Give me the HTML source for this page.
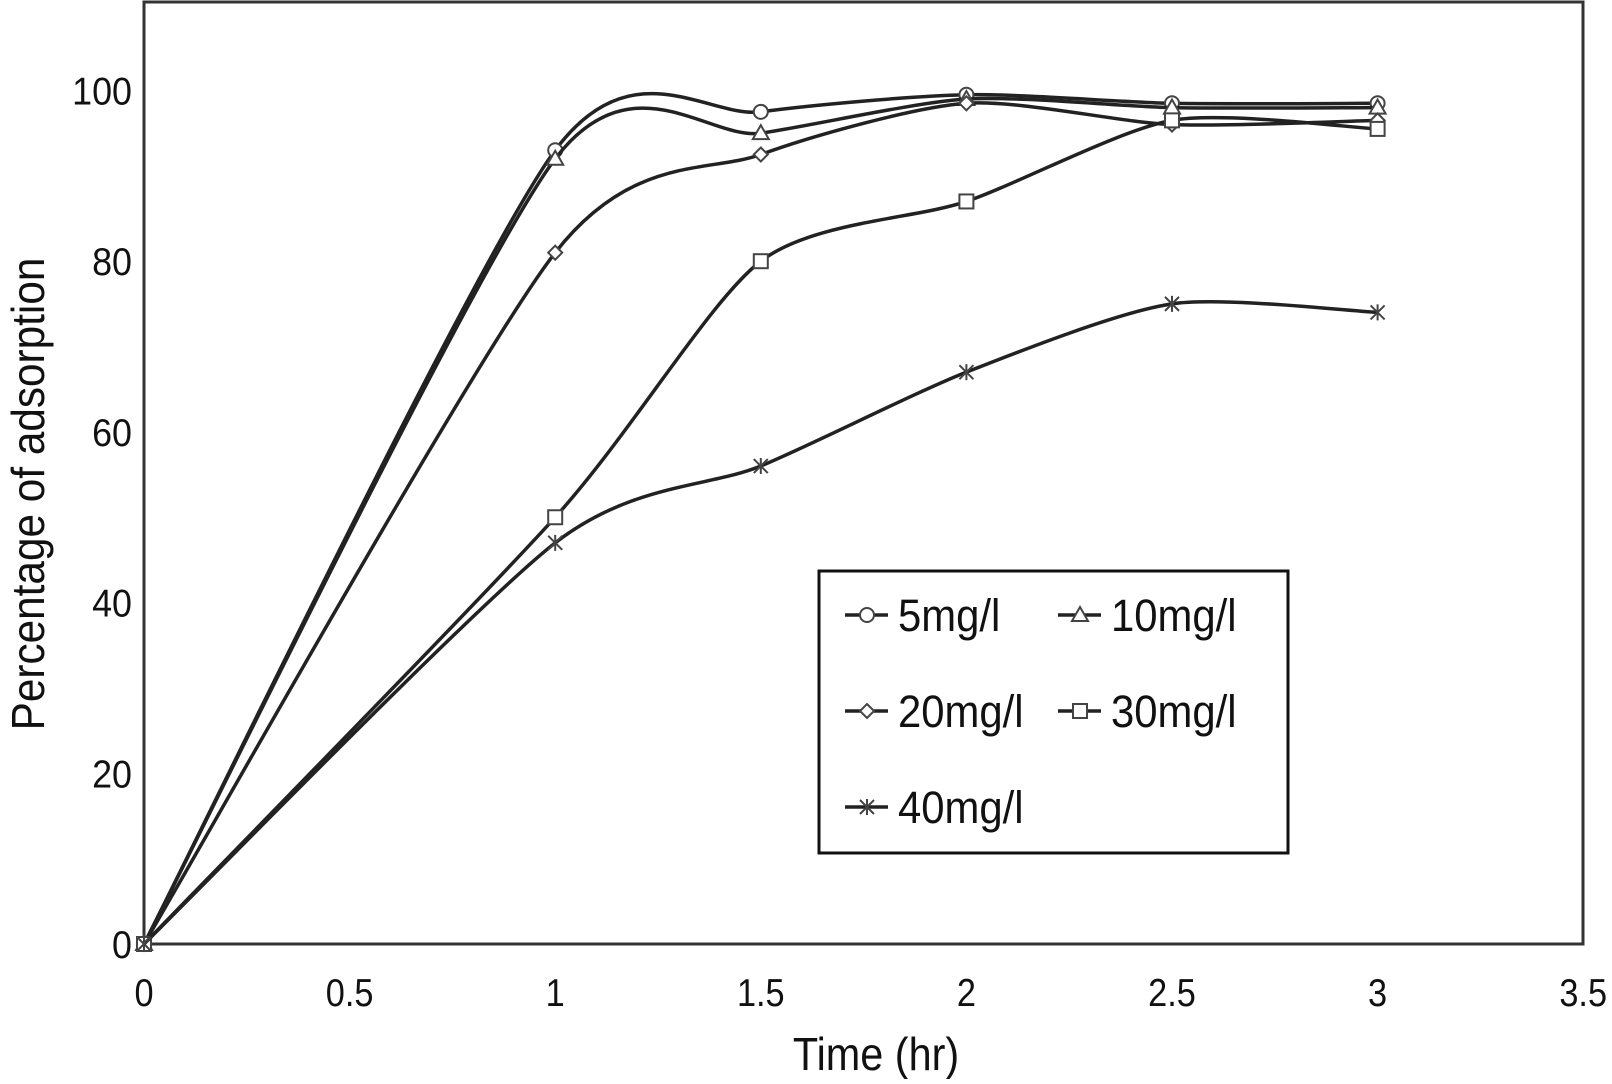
<!DOCTYPE html>
<html><head><meta charset="utf-8"><style>
html,body{margin:0;padding:0;background:#fff;}
svg text{font-family:"Liberation Sans",sans-serif;fill:#111;}
</style></head><body>
<svg id="chart" width="1612" height="1079" viewBox="0 0 1612 1079" xmlns="http://www.w3.org/2000/svg">
<rect x="144" y="2" width="1439" height="942" fill="#fff" stroke="#333" stroke-width="3"/>
<g id="ticks"></g>
<g id="series"></g>
<text x="876" y="1070" font-size="46" text-anchor="middle" transform="translate(876,0) scale(0.9,1) translate(-876,0)">Time (hr)</text>
<text transform="translate(44,494) rotate(-90) scale(0.92,1)" font-size="46" text-anchor="middle">Percentage of adsorption</text>
<g>
<rect x="819" y="571" width="469" height="282" fill="#fff" stroke="#111" stroke-width="3"/>
<g id="legend"></g>
</g>
</svg>
<script>
const times=[0,1,1.5,2,2.5,3];
const s5=[0,93,97.5,99.5,98.5,98.5];
const s10=[0,92,95,99,98,98];
const s20=[0,81,92.5,98.5,96,96.5];
const s30=[0,50,80,87,96.5,95.5];
const s40=[0,47,56,67,75,74];
const seriesNames=["5mg/l","10mg/l","20mg/l","30mg/l","40mg/l"];
const xTicks=[0,0.5,1,1.5,2,2.5,3,3.5];
const yTicks=[0,20,40,60,80,100];
const NS="http://www.w3.org/2000/svg";
const X=v=>144+v*411.2;
const Y=v=>944-v*8.535;
function mk(tag,attrs,parent){const e=document.createElementNS(NS,tag);for(const k in attrs)e.setAttribute(k,attrs[k]);parent.appendChild(e);return e;}
const tg=document.getElementById('ticks');
xTicks.forEach(t=>{const e=mk('text',{x:X(t),y:1006,'font-size':39,'text-anchor':'middle',transform:`translate(${X(t)},0) scale(0.88,1) translate(${-X(t)},0)`},tg);


e.textContent=String(t);});
yTicks.forEach(t=>{const e=mk('text',{x:132,y:Y(t)+14,'font-size':39,'text-anchor':'end',transform:`translate(132,0) scale(0.92,1) translate(-132,0)`},tg);


e.textContent=String(t);});
function marker(type,cx,cy,p){
  let e;
  if(type==='circle'){e=mk('circle',{cx:cx,cy:cy,r:7,fill:'#fff',stroke:'#444','stroke-width':2},p);}
  else if(type==='tri'){e=mk('polygon',{points:`${cx},${cy-8} ${cx+8},${cy+6} ${cx-8},${cy+6}`,fill:'#fff',stroke:'#444','stroke-width':2},p);}
  else if(type==='diamond'){e=mk('polygon',{points:`${cx},${cy-7} ${cx+7},${cy} ${cx},${cy+7} ${cx-7},${cy}`,fill:'#fff',stroke:'#444','stroke-width':2},p);}
  else if(type==='square'){e=mk('rect',{x:cx-7,y:cy-7,width:14,height:14,fill:'#fff',stroke:'#444','stroke-width':2},p);}
  else {e=mk('path',{d:`M${cx-7},${cy-7}L${cx+7},${cy+7}M${cx+7},${cy-7}L${cx-7},${cy+7}M${cx},${cy-8}L${cx},${cy+8}`,stroke:'#444','stroke-width':2,fill:'none'},p);}
  
  
}
function smooth(pts){
  let d=`M${pts[0][0]},${pts[0][1]}`;
  const k=1/8;
  for(let i=0;i<pts.length-1;i++){
    const p0=pts[Math.max(0,i-1)],p1=pts[i],p2=pts[i+1],p3=pts[Math.min(pts.length-1,i+2)];
    const c1=[p1[0]+(p2[0]-p0[0])*k,p1[1]+(p2[1]-p0[1])*k];
    const c2=[p2[0]-(p3[0]-p1[0])*k,p2[1]-(p3[1]-p1[1])*k];
    d+=`C${c1[0]},${c1[1]} ${c2[0]},${c2[1]} ${p2[0]},${p2[1]}`;
  }
  return d;
}
const all=[s5,s10,s20,s30,s40];
const types=['circle','tri','diamond','square','star'];
const sg=document.getElementById('series');
all.forEach((s,i)=>{
  const g=mk('g',{},sg);
  
  
  const pts=times.map((t,j)=>[X(t),Y(s[j])]);
  const path=mk('path',{d:smooth(pts),fill:'none',stroke:'#222','stroke-width':3.5},g);
  
  
  pts.forEach(p=>marker(types[i],p[0],p[1],g));
});
const lg=document.getElementById('legend');
const pos=[[845,615],[1058,615],[845,711],[1058,711],[845,807]];
seriesNames.forEach((n,i)=>{
  const [lx,ly]=pos[i];
  const g=mk('g',{},lg);
  
  
  mk('line',{x1:lx,y1:ly,x2:lx+43,y2:ly,stroke:'#222','stroke-width':3.5},g);
  marker(types[i],lx+22,ly,g);
  const t=mk('text',{x:lx+53,y:ly+16,'font-size':45,transform:`translate(${lx+53},0) scale(0.93,1) translate(${-(lx+53)},0)`},g);
  t.textContent=n;
});
</script>
</body></html>
